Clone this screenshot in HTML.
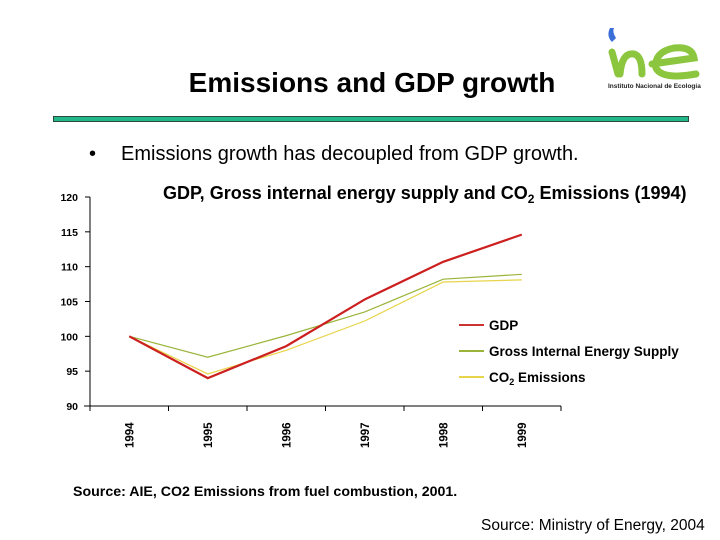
<!DOCTYPE html>
<html><head><meta charset="utf-8"><style>
body{margin:0;width:720px;height:540px;background:#fff;overflow:hidden;position:relative;font-family:"Liberation Sans",sans-serif;}
.abs{position:absolute;white-space:nowrap;}
</style></head><body>
<div class="abs" style="left:0;width:744px;text-align:center;top:67px;font-size:28px;font-weight:bold;color:#000;">Emissions and GDP growth</div>
<svg class="abs" style="left:600px;top:22px" width="110" height="75" viewBox="0 0 110 75">
<path d="M10 6 Q6 14 12 20 L16 16 Q12 10 14 6 Z" fill="#3a6fd8"/>
<path d="M12 30 L18 52 M20 52 Q22 30 34 32 Q42 34 42 52" stroke="#8cc63e" stroke-width="7" fill="none" stroke-linecap="round"/>
<path d="M52 42 L94 36 Q92 24 74 26 Q54 30 56 46 Q62 58 96 52" stroke="#8cc63e" stroke-width="7" fill="none" stroke-linecap="round"/>
<text x="8" y="66" font-size="6.5" font-weight="bold" fill="#222" font-family="Liberation Sans, sans-serif">Instituto Nacional de Ecología</text>
</svg>
<div class="abs" style="left:53px;top:116px;width:634px;height:4px;background:#22b88a;border:1px solid #2a4a40;"></div>
<div class="abs" style="left:89px;top:143px;font-size:20px;color:#000;"><span style="display:inline-block;width:32px">•</span>Emissions growth has decoupled from GDP growth.</div>
<svg class="abs" id="chart" style="left:0;top:0" width="720" height="540"></svg>
<div class="abs" style="left:73px;top:484px;font-size:14.2px;font-weight:bold;color:#000;">Source: AIE, CO2 Emissions from fuel combustion, 2001.</div>
<div class="abs" style="left:481px;top:517px;font-size:15.5px;color:#000;">Source: Ministry of Energy, 2004</div>
<script>
const years=["1994","1995","1996","1997","1998","1999"];
const gdp=[100,94,98.6,105.3,110.7,114.6];
const energy=[100,97,100.1,103.5,108.2,108.9];
const co2=[100,94.6,98.0,102.2,107.8,108.1];
const yTicks=[90,95,100,105,110,115,120];
const NS="http://www.w3.org/2000/svg";
const svg=document.getElementById('chart');
const x0=90,x1=561,yTop=197,yBot=406,yMin=90,yMax=120;
const cw=(x1-x0)/years.length;
const X=i=>x0+cw*(i+0.5);
const Y=v=>yBot-(v-yMin)/(yMax-yMin)*(yBot-yTop);
function mk(t,a){const e=document.createElementNS(NS,t);for(const k in a)e.setAttribute(k,a[k]);svg.appendChild(e);return e;}
let ax=mk('line',{x1:x0,y1:yTop,x2:x0,y2:yBot,stroke:'#000','stroke-width':1});


let bx=mk('line',{x1:x0-6,y1:yBot,x2:x1,y2:yBot,stroke:'#000','stroke-width':1});


yTicks.forEach(v=>{
 mk('line',{x1:x0-5,y1:Y(v),x2:x0,y2:Y(v),stroke:'#000'});
 const t=mk('text',{x:x0-12,y:Y(v)+4,'text-anchor':'end','font-size':10.5,'font-weight':'bold','font-family':'Liberation Sans, sans-serif'});
 t.textContent=v;
 
 
});
for(let i=0;i<=years.length;i++)mk('line',{x1:x0+cw*i,y1:yBot,x2:x0+cw*i,y2:yBot+5,stroke:'#000'});
years.forEach((y,i)=>{
 const t=mk('text',{x:0,y:0,transform:`translate(${X(i)+4},${yBot+42}) rotate(-90)`,'font-size':11.5,'font-weight':'bold','font-family':'Liberation Sans, sans-serif'});
 t.textContent=y;
 
 
});
function line(d,c,w,n){
 const p=mk('polyline',{points:d.map((v,i)=>X(i)+','+Y(v)).join(' '),fill:'none',stroke:c,'stroke-width':w});
 
 
}
line(energy,'#9ab43a',1.2,'energy-supply-line');
line(co2,'#e8d44a',1.2,'co2-emissions-line');
line(gdp,'#cc1f1f',2.2,'gdp-line');
const tt=mk('text',{x:163,y:199,'font-size':18,'font-weight':'bold','font-family':'Liberation Sans, sans-serif'});
tt.innerHTML='GDP, Gross internal energy supply and CO<tspan font-size="12" dy="4">2</tspan><tspan dy="-4"> Emissions (1994)</tspan>';


const leg=[['GDP','#cc3333'],['Gross Internal Energy Supply','#9ab43a'],['CO2','#e8d44a']];
leg.forEach((l,i)=>{
 const y=325+i*26;
 mk('line',{x1:459,y1:y,x2:484,y2:y,stroke:l[1],'stroke-width':2});
 const t=mk('text',{x:489,y:y+5,'font-size':13.5,'font-weight':'bold','font-family':'Liberation Sans, sans-serif'});
 if(i==2)t.innerHTML='CO<tspan font-size="9" dy="3">2</tspan><tspan dy="-3"> Emissions</tspan>';else t.textContent=l[0];
 
 
});
</script>
</body></html>
